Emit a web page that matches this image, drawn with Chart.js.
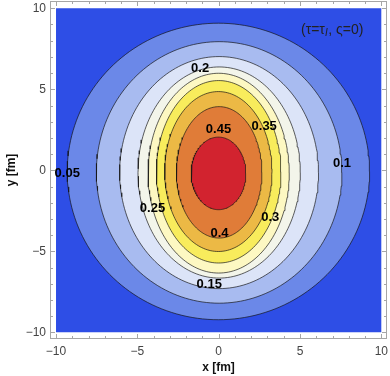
<!DOCTYPE html>
<html>
<head>
<meta charset="utf-8">
<script src="https://cdn.jsdelivr.net/npm/chart.js@4.4.1/dist/chart.umd.min.js"></script>
<style>
  html, body { margin: 0; padding: 0; background: #fff; }
  #wrap { width: 390px; height: 376px; }
</style>
</head>
<body>
<div id="wrap"><canvas id="contour" width="390" height="376"></canvas></div>
<script>
// contour levels and where each contour crosses the lines through the centre (fm)
const levels  = [0.05, 0.1, 0.15, 0.2, 0.25, 0.3, 0.35, 0.4, 0.45];
const xLeft   = [-9.31, -7.52, -6.09, -4.96, -4.34, -3.83, -3.32, -2.60, -1.69];
const xRight  = [ 9.28,  7.58,  6.14,  5.02,  4.34,  3.83,  3.28,  2.66,  1.67];
const yTop    = [ 9.08,  7.94,  7.02,  6.38,  5.99,  5.54,  4.86,  3.93,  2.05];
const yBottom = [-9.22, -8.20, -7.30, -6.65, -6.34, -5.72, -5.01, -4.18, -2.43];
const gridMin = -10, gridMax = 10;
const tickValues = [-10, -5, 0, 5, 10];

// band colours, lowest band first (below 0.05 ... above 0.45)
const bandColors = ['#2e4ee6', '#6b88e8', '#a8bbf0', '#dce4f8', '#f3f5ea',
                    '#fdf8c2', '#f8ec5c', '#ecb945', '#e07c38', '#d2232f'];
// where the contour labels sit (data coords)
const labelSpots = [[-9.31, -0.17], [7.58, 0.45], [-0.58, -7.02], [-1.14, 6.30], [-4.07, -2.36],
                    [3.17, -2.91], [2.80, 2.70], [0.05, -3.87], [-0.01, 2.50]];

const FONT = "'Liberation Sans', Arial, sans-serif";

// closed curve through the four axis crossings of a contour
function contourPoints(i) {
  const cx = (xLeft[i] + xRight[i]) / 2, rx = (xRight[i] - xLeft[i]) / 2;
  const cy = (yTop[i] + yBottom[i]) / 2, ry = (yTop[i] - yBottom[i]) / 2;
  const pts = [];
  for (let k = 0; k <= 180; k++) {
    const t = k / 180 * 2 * Math.PI;
    pts.push({x: cx + rx * Math.cos(t), y: cy + ry * Math.sin(t)});
  }
  return pts;
}

const datasets = [{
  // whole grid, lowest band
  data: [{x: gridMin, y: gridMin}, {x: gridMax, y: gridMin}, {x: gridMax, y: gridMax},
         {x: gridMin, y: gridMax}, {x: gridMin, y: gridMin}],
  backgroundColor: bandColors[0],
  borderWidth: 0,
  fill: 'shape',
  order: 100
}];
levels.forEach((lv, i) => {
  datasets.push({
    label: String(lv),
    data: contourPoints(i),
    backgroundColor: bandColors[i + 1],
    borderColor: 'rgba(20,20,20,0.85)',
    borderWidth: 0.8,
    fill: 'shape',
    order: 50 - i
  });
});

const fmt = v => v < 0 ? '\u2212' + Math.abs(v) : String(v);

// no extra room for tick labels that overhang the plot ends
const noOverhang = s => { s.paddingTop = 0; s.paddingBottom = 0; s.paddingLeft = 0; s.paddingRight = 0; };

// frame with inward ticks on all four sides, like Mathematica
const framePlugin = {
  id: 'frame',
  afterDatasetsDraw(chart) {
    const {ctx, chartArea: a, scales: {x, y}} = chart;
    ctx.save();
    ctx.strokeStyle = '#a6a6a6';
    ctx.lineWidth = 1;
    ctx.strokeRect(a.left + 0.5, a.top + 0.5, a.right - a.left - 1, a.bottom - a.top - 1);
    ctx.beginPath();
    for (let v = gridMin; v <= gridMax; v++) {
      const len = v % 5 === 0 ? 5 : 3;
      const px = Math.round(x.getPixelForValue(v)) + 0.5;
      const py = Math.round(y.getPixelForValue(v)) + 0.5;
      ctx.moveTo(px, a.bottom); ctx.lineTo(px, a.bottom - len);
      ctx.moveTo(px, a.top); ctx.lineTo(px, a.top + len);
      ctx.moveTo(a.left, py); ctx.lineTo(a.left + len, py);
      ctx.moveTo(a.right, py); ctx.lineTo(a.right - len, py);
    }
    ctx.stroke();

    // contour labels
    ctx.fillStyle = '#000';
    ctx.font = 'bold 13px ' + FONT;
    ctx.textAlign = 'center';
    ctx.textBaseline = 'middle';
    levels.forEach((lv, i) => {
      ctx.fillText(String(lv), x.getPixelForValue(labelSpots[i][0]), y.getPixelForValue(labelSpots[i][1]));
    });

    // parameter note
    ctx.fillStyle = '#222';
    ctx.textAlign = 'left';
    let tx = 301, ty = 30;
    const parts = [['(\u03c4=\u03c4', 0], ['I', 1], [', \u03c2=0)', 0]];
    parts.forEach(([s, sub]) => {
      ctx.font = sub ? 'italic 10px ' + FONT : '14px ' + FONT;
      ctx.fillText(s, tx, ty + (sub ? 3 : 0));
      tx += ctx.measureText(s).width + (sub ? 0.5 : 0);
    });
    ctx.restore();
  }
};

new Chart(document.getElementById('contour'), {
  type: 'scatter',
  data: {datasets},
  options: {
    responsive: false,
    animation: false,
    devicePixelRatio: 1,
    showLine: true,
    elements: {point: {radius: 0, hoverRadius: 0}, line: {tension: 0}},
    layout: {padding: {top: 1, right: 3, left: 0, bottom: 0}},
    plugins: {legend: {display: false}, tooltip: {enabled: false}},
    scales: {
      x: {
        type: 'linear', min: -10.37, max: 10.35,
        afterFit: s => { s.height = 37; noOverhang(s); },
        afterBuildTicks: s => { s.ticks = tickValues.map(v => ({value: v})); },
        grid: {display: false, drawTicks: false},
        border: {display: false},
        ticks: {color: '#444', font: {family: FONT, size: 12}, padding: 5, maxRotation: 0, autoSkip: false, callback: fmt},
        title: {display: true, text: 'x [fm]', color: '#111', font: {family: FONT, size: 12, weight: 'bold'}, padding: {top: 1, bottom: 1}}
      },
      y: {
        type: 'linear', min: -10.41, max: 10.45,
        afterFit: s => { s.width = 50; noOverhang(s); },
        afterBuildTicks: s => { s.ticks = tickValues.map(v => ({value: v})); },
        grid: {display: false, drawTicks: false},
        border: {display: false},
        ticks: {color: '#444', font: {family: FONT, size: 12}, padding: 4, autoSkip: false, callback: fmt},
        title: {display: true, text: 'y [fm]', color: '#111', font: {family: FONT, size: 12, weight: 'bold'}, padding: {top: 4, bottom: 0}}
      }
    }
  },
  plugins: [framePlugin]
});
</script>
</body>
</html>
